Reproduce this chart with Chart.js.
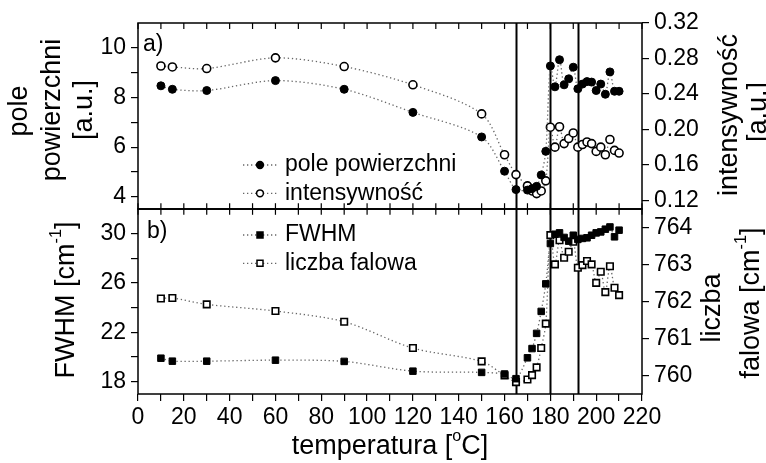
<!DOCTYPE html>
<html><head><meta charset="utf-8">
<script src="https://cdn.jsdelivr.net/npm/chart.js@4/dist/chart.umd.min.js"></script>
<style>
html,body{margin:0;padding:0;background:#fff;}
#wrap{position:relative;width:766px;height:463px;overflow:hidden;background:#fff;}
canvas{position:absolute;left:0;}
#c1{top:0;}
#c2{top:190px;}
</style></head><body>
<div id="wrap">
<canvas id="c1" width="766" height="230"></canvas>
<canvas id="c2" width="766" height="273"></canvas>
</div>
<script>
// ---------- data ----------
const temps = [10,15,30,60,90,120,150,160,165,170,172,174,176,178,180,182,184,186,188,190,192,194,196,198,200,202,204,206,208,210];
const polePowierzchni = [8.47,8.33,8.28,8.68,8.33,7.40,6.41,5.03,4.29,4.27,4.33,4.42,4.88,5.83,9.27,8.43,9.52,8.51,8.75,9.22,8.35,8.54,8.64,8.62,8.28,8.54,8.13,9.03,8.25,8.25];
const intensywnosc = [0.2715,0.2704,0.2686,0.2807,0.2709,0.2503,0.2175,0.1714,0.149,0.1363,0.1306,0.1276,0.1306,0.142,0.2025,0.180,0.203,0.184,0.1897,0.196,0.180,0.1829,0.1858,0.184,0.1752,0.180,0.1714,0.1886,0.1763,0.1733];
const fwhm = [19.90,19.66,19.66,19.74,19.64,18.85,18.75,18.62,18.24,19.93,20.68,21.91,23.69,25.92,29.19,29.94,30.05,29.68,29.38,29.86,29.52,29.60,29.65,29.86,30.05,30.13,30.35,30.53,29.73,30.27];
const liczbaFalowa = [762.08,762.09,761.92,761.74,761.45,760.74,760.38,760.00,759.82,759.89,760.01,760.22,760.74,761.40,763.79,763.00,763.65,763.18,763.34,763.61,762.91,762.98,763.09,763.00,762.50,762.80,762.25,762.95,762.37,762.17];
const transitionTemps = [165,180,192];
const xTickValues = [0,10,20,30,40,50,60,70,80,90,100,110,120,130,140,150,160,170,180,190,200,210,220];
const poleTicks = [4,5,6,7,8,9,10];
const intTicks = [0.12,0.14,0.16,0.18,0.20,0.22,0.24,0.26,0.28,0.30,0.32];
const fwhmTicks = [18,20,22,24,26,28,30];
const falowaTicks = [760,760.5,761,761.5,762,762.5,763,763.5,764];

// ---------- helpers ----------
const FAM = "'Liberation Sans', Arial, sans-serif";
const TICK = 23, TITLE = 27;
const SPLIT_Y = 209;     // page y of the boundary between panels
const X_AXIS_H = 69;
function pts(ys){ return temps.map((t,i)=>({x:t,y:ys[i]})); }
function setTicks(vals){ return s => { s.ticks = vals.map(v=>({value:v})); }; }

function drawRich(ctx, parts, cx, cy, size, rot){
  ctx.save();
  ctx.translate(cx, cy);
  if (rot) ctx.rotate(rot);
  ctx.fillStyle = '#000';
  ctx.textBaseline = 'middle';
  ctx.textAlign = 'left';
  let total = 0;
  const ws = parts.map(p=>{
    ctx.font = (p.sup ? size*0.6 : size) + 'px ' + FAM;
    const w = ctx.measureText(p.t).width; total += w; return w;
  });
  let x = -total/2;
  parts.forEach((p,i)=>{
    ctx.font = (p.sup ? size*0.6 : size) + 'px ' + FAM;
    ctx.fillText(p.t, x, p.sup ? -size*0.38 : 0);
    x += ws[i];
  });
  ctx.restore();
}

function makePlugin(cfg){
  const Y = y => y - cfg.dy;
  return {
    id: 'custom' + cfg.id,
    beforeDatasetsDraw(chart){
      const ctx = chart.ctx, a = chart.chartArea, xs = chart.scales.x;
      ctx.save();
      ctx.strokeStyle = '#000'; ctx.lineWidth = 2;
      transitionTemps.forEach(t=>{
        const px = Math.round(xs.getPixelForValue(t)) + 0.5;
        ctx.beginPath(); ctx.moveTo(px, a.top); ctx.lineTo(px, a.bottom); ctx.stroke();
      });
      ctx.restore();
    },
    afterDraw(chart){
      const ctx = chart.ctx, a = chart.chartArea, xs = chart.scales.x;
      ctx.save();
      ctx.strokeStyle = '#000'; ctx.lineWidth = 1.5;
      ctx.strokeRect(a.left, a.top, a.right - a.left, a.bottom - a.top);
      ctx.lineWidth = 1.2;
      xTickValues.forEach(v=>{
        const px = xs.getPixelForValue(v);
        ctx.beginPath(); ctx.moveTo(px, a.top); ctx.lineTo(px, a.top + 6); ctx.stroke();
        if (cfg.innerBottom){ ctx.beginPath(); ctx.moveTo(px, a.bottom); ctx.lineTo(px, a.bottom - 6); ctx.stroke(); }
      });
      cfg.legend.forEach(it=>{
        const y = Y(it.y);
        ctx.save();
        ctx.strokeStyle = '#666'; ctx.lineWidth = 1.3; ctx.setLineDash([1.3,2.7]);
        ctx.beginPath(); ctx.moveTo(243, y); ctx.lineTo(278, y); ctx.stroke();
        ctx.setLineDash([]);
        ctx.lineWidth = 1.5; ctx.strokeStyle = '#000';
        ctx.fillStyle = it.filled ? '#000' : '#fff';
        ctx.beginPath();
        if (it.shape === 'circle') ctx.arc(260, y, 3.4, 0, Math.PI*2);
        else ctx.rect(257, y - 3, 6, 6);
        ctx.fill(); ctx.stroke();
        ctx.restore();
        ctx.fillStyle = '#000'; ctx.font = TICK + 'px ' + FAM;
        ctx.textBaseline = 'middle'; ctx.textAlign = 'left';
        ctx.fillText(it.label, 285, y);
      });
      ctx.fillStyle = '#000'; ctx.font = TICK + 'px ' + FAM;
      ctx.textBaseline = 'middle'; ctx.textAlign = 'left';
      ctx.fillText(cfg.panel.t, cfg.panel.x, Y(cfg.panel.y));
      cfg.titles.forEach(tt=> drawRich(ctx, tt.parts, tt.x, Y(tt.y), TITLE, tt.rot));
      ctx.restore();
    }
  };
}

function lineDs(label, ys, axis, filled, shape){
  return {
    label, data: pts(ys), yAxisID: axis,
    showLine: true, fill: false,
    borderColor: '#666', borderWidth: 1.3, borderDash: [1.3,2.7],
    tension: 0.3,
    pointStyle: shape,
    pointRadius: shape === 'circle' ? 4 : 4.6,
    pointHoverRadius: shape === 'circle' ? 4 : 4.6,
    pointBackgroundColor: filled ? '#000' : '#fff',
    pointBorderColor: '#000',
    pointBorderWidth: filled ? 1 : 1.6
  };
}

function yAxis(pos, min, max, vals, fmt, width){
  return {
    type: 'linear', position: pos, min, max,
    afterBuildTicks: setTicks(vals),
    afterFit: s => { s.width = width; },
    border: { display: false },
    grid: { drawOnChartArea: false, drawTicks: true, tickLength: 7, color: '#000', lineWidth: 1.2 },
    ticks: { color: '#000', font: { family: FAM, size: TICK }, padding: 5, callback: fmt }
  };
}

Chart.defaults.animation = false;

const cfg1 = {
  id: 1, dy: 0, innerBottom: true,
  legend: [
    { label: 'pole powierzchni', y: 165, filled: true, shape: 'circle' },
    { label: 'intensywność', y: 193.3, filled: false, shape: 'circle' }
  ],
  panel: { t: 'a)', x: 143, y: 45 },
  titles: [
    { parts: [{t:'pole'}], x: 20, y: 111, rot: -Math.PI/2 },
    { parts: [{t:'powierzchni'}], x: 53, y: 110, rot: -Math.PI/2 },
    { parts: [{t:'[a.u.]'}], x: 85, y: 110, rot: -Math.PI/2 },
    { parts: [{t:'intensywność'}], x: 730, y: 115, rot: -Math.PI/2 },
    { parts: [{t:'[a.u.]'}], x: 759, y: 112, rot: -Math.PI/2 }
  ]
};
function config1(){
  return {
    type: 'line',
    data: { datasets: [
      lineDs('pole powierzchni', polePowierzchni, 'yL', true, 'circle'),
      lineDs('intensywność', intensywnosc, 'yR', false, 'circle')
    ]},
    options: {
      responsive: false, animation: false,
      layout: { padding: { top: 23, bottom: 1, left: 0, right: 0 } },
      plugins: { legend: { display: false }, tooltip: { enabled: false } },
      scales: {
        x: { type: 'linear', min: 0, max: 220, display: false },
        yL: yAxis('left', 3.5, 11, poleTicks, (v,i)=> (v % 2 === 0 ? String(v) : ''), 138),
        yR: yAxis('right', 0.11, 0.32, intTicks, (v,i)=> (i % 2 === 0 ? v.toFixed(2) : ''), 124)
      }
    },
    plugins: [makePlugin(cfg1)]
  };
}

const cfg2 = {
  id: 2, dy: 190, innerBottom: false,
  legend: [
    { label: 'FWHM', y: 235, filled: true, shape: 'rect' },
    { label: 'liczba falowa', y: 263.3, filled: false, shape: 'rect' }
  ],
  panel: { t: 'b)', x: 147, y: 232 },
  titles: [
    { parts: [{t:'FWHM [cm'},{t:'-1',sup:true},{t:']'}], x: 67, y: 300, rot: -Math.PI/2 },
    { parts: [{t:'liczba'}], x: 713, y: 308, rot: -Math.PI/2 },
    { parts: [{t:'falowa [cm'},{t:'-1',sup:true},{t:']'}], x: 752, y: 303, rot: -Math.PI/2 },
    { parts: [{t:'temperatura ['},{t:'o',sup:true},{t:'C]'}], x: 390, y: 447, rot: 0 }
  ]
};
function config2(){
  return {
    type: 'line',
    data: { datasets: [
      lineDs('FWHM', fwhm, 'yL', true, 'rect'),
      lineDs('liczba falowa', liczbaFalowa, 'yR', false, 'rect')
    ]},
    options: {
      responsive: false, animation: false,
      layout: { padding: { top: 0, bottom: 0, left: 0, right: 0 } },
      plugins: { legend: { display: false }, tooltip: { enabled: false } },
      scales: {
        x: {
          type: 'linear', min: 0, max: 220, position: 'bottom',
          afterBuildTicks: setTicks(xTickValues),
          afterFit: s => { s.height = X_AXIS_H; },
          border: { display: false },
          grid: { drawOnChartArea: false, drawTicks: true, tickLength: 7, color: '#000', lineWidth: 1.2 },
          ticks: { color: '#000', font: { family: FAM, size: TICK }, padding: 3, maxRotation: 0, autoSkip: false,
                   callback: v => (v % 20 === 0 ? String(v) : '') }
        },
        yL: yAxis('left', 17, 32, fwhmTicks, (v,i)=> ((v - 18) % 4 === 0 ? String(v) : ''), 138),
        yR: yAxis('right', 759.5, 764.5, falowaTicks, (v,i)=> (i % 2 === 0 ? String(v) : ''), 124)
      }
    },
    plugins: [makePlugin(cfg2)]
  };
}

// top panel: probe layout, then rebuild so the plot area ends at the split line
const c1 = document.getElementById('c1');
let probe = new Chart(c1, config1());
const gap1 = probe.height - probe.chartArea.bottom;
probe.destroy();
c1.width = 766; c1.height = Math.round(SPLIT_Y + gap1);
c1.style.width = '766px'; c1.style.height = c1.height + 'px';
new Chart(c1, config1());

// bottom panel: probe layout, then rebuild so the plot area starts at the split line
const c2 = document.getElementById('c2');
probe = new Chart(c2, config2());
const off2 = probe.chartArea.top;
probe.destroy();
const top2 = Math.round(SPLIT_Y - off2);
cfg2.dy = top2;
c2.style.top = top2 + 'px';
c2.width = 766; c2.height = 463 - top2;
c2.style.width = '766px'; c2.style.height = c2.height + 'px';
new Chart(c2, config2());
</script>
</body></html>
